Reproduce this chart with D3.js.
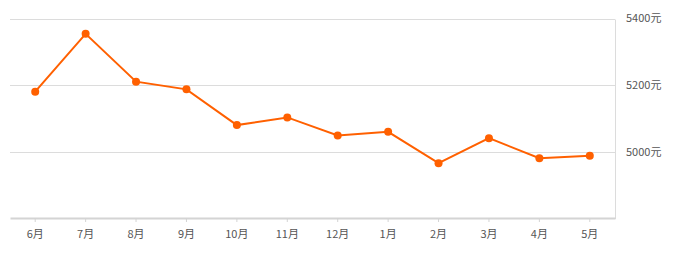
<!DOCTYPE html>
<html>
  <head>
    <meta charset="utf-8" />
    <script src="https://d3js.org/d3.v7.min.js"></script>
    <style>
        body {margin: 0; background: #fff;}
        text {font-family: "Noto Sans CJK SC", "Noto Sans", sans-serif;}
    </style>
  </head>
  <body>
    <svg id="viz"></svg>
    <script>
        var width = 675
        var height = 255

        // monthly price data
        var months = ["6月", "7月", "8月", "9月", "10月", "11月", "12月", "1月", "2月", "3月", "4月", "5月"]
        var prices = [5181, 5354, 5211, 5188, 5081, 5104, 5050, 5061, 4967, 5042, 4982, 4989]
        var yTicks = [5000, 5200, 5400]

        var svg = d3.select("#viz")
            .attr("width", width)
            .attr("height", height);

        var x = d3.scaleBand()
            .domain(months)
            .range([10, 615]);

        var y = d3.scaleLinear()
            .domain([4800, 5400])
            .range([219, 18.5]);

        // horizontal grid lines
        svg.append("g")
            .selectAll("line")
            .data(yTicks)
            .enter().append("line")
            .attr("x1", 10)
            .attr("x2", 615)
            .attr("y1", function(d){ return Math.round(y(d)) + 0.5; })
            .attr("y2", function(d){ return Math.round(y(d)) + 0.5; })
            .attr("stroke", "#dcdcdc")
            .attr("stroke-width", 1);

        // right border line
        svg.append("line")
            .attr("x1", 615.5).attr("x2", 615.5)
            .attr("y1", Math.round(y(5400)) + 0.5)
            .attr("y2", 219)
            .attr("stroke", "#dcdcdc");

        // y labels on the right
        svg.append("g")
            .selectAll("text")
            .data(yTicks)
            .enter().append("text")
            .attr("x", 626)
            .attr("y", function(d){ return y(d); })
            .attr("dy", "0.35em")
            .attr("font-size", "11px")
            .attr("fill", "#555")
            .text(function(d){ return d + "元"; });

        // x axis
        var xAxis = d3.axisBottom(x)
            .tickSize(4)
            .tickSizeOuter(0)
            .tickPadding(8);

        var ax = svg.append("g")
            .attr("transform", "translate(0,218)")
            .call(xAxis);

        ax.select(".domain")
            .attr("stroke", "#d4d4d4")
            .attr("stroke-width", 2);
        ax.selectAll(".tick line")
            .attr("stroke", "#d4d4d4");
        ax.selectAll(".tick text")
            .attr("font-size", "11px")
            .attr("font-family", "\"Noto Sans CJK SC\", sans-serif")
            .attr("fill", "#555");

        var cx = function(d, i){ return x(months[i]) + x.bandwidth() / 2; };

        var line = d3.line()
            .x(cx)
            .y(function(d){ return y(d); });

        svg.append("path")
            .datum(prices)
            .attr("d", line)
            .attr("fill", "none")
            .attr("stroke", "#ff6000")
            .attr("stroke-width", 2);

        svg.append("g")
            .selectAll("circle")
            .data(prices)
            .enter().append("circle")
            .attr("cx", cx)
            .attr("cy", function(d){ return y(d); })
            .attr("r", 4)
            .attr("fill", "#ff6000");
    </script>
  </body>
</html>
